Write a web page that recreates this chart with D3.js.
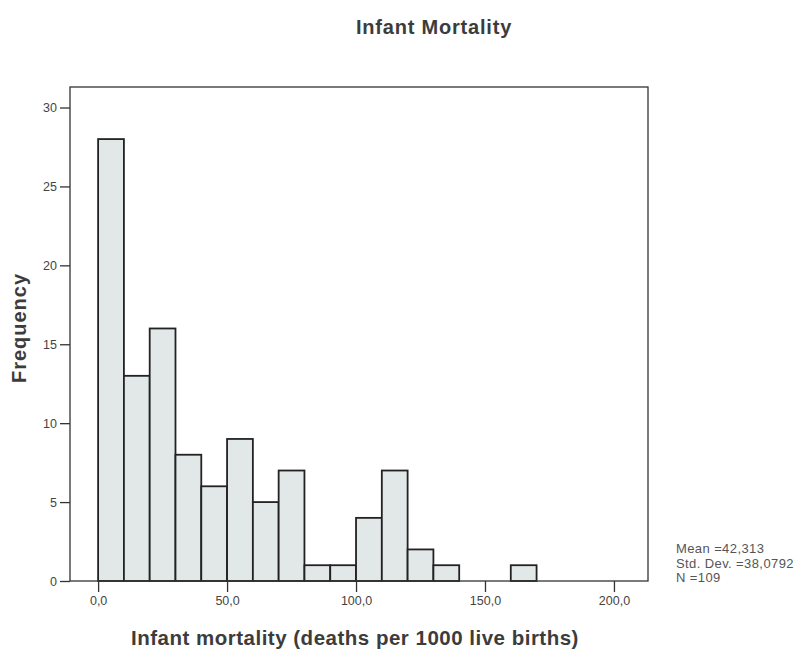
<!DOCTYPE html>
<html><head><meta charset="utf-8">
<script src="https://cdn.jsdelivr.net/npm/d3@7"></script>
<style>body{margin:0;background:#fff}svg{display:block}text{font-family:"Liberation Sans",Arial,sans-serif}</style>
</head><body><svg id="c" width="804" height="651"></svg>
<script>
const binStarts = [0,10,20,30,40,50,60,70,80,90,100,110,120,130,140,150,160];
const frequencies = [28,13,16,8,6,9,5,7,1,1,4,7,2,1,0,0,1];
const xTicks = [0,50,100,150,200];
const yTicks = [0,5,10,15,20,25,30];
const statsLines = ["Mean =42,313","Std. Dev. =38,0792","N =109"];
const binWidth = 10;

const svg = d3.select("#c");
const x = d3.scaleLinear().domain([-10.9, 213.2]).range([70, 648]);
const y = d3.scaleLinear().domain([0, 31.3]).range([581, 87]);

svg.append("text").attr("x",434).attr("y",34).attr("text-anchor","middle")
  .attr("font-size",20).attr("fill","#3c3c3c").attr("font-weight","bold").attr("letter-spacing",0.8).text("Infant Mortality");

// bars
svg.append("g").selectAll("rect").data(binStarts.map((s,i)=>({s,f:frequencies[i]})).filter(d=>d.f>0))
  .join("rect")
  .attr("x",d=>x(d.s)).attr("width",d=>x(d.s+binWidth)-x(d.s))
  .attr("y",d=>y(d.f)).attr("height",d=>y(0)-y(d.f))
  .attr("fill","#e2e8e8").attr("stroke","#222").attr("stroke-width",1.8);

// frame
svg.append("rect").attr("x",x.range()[0]).attr("y",y.range()[1])
  .attr("width",x.range()[1]-x.range()[0]).attr("height",y.range()[0]-y.range()[1])
  .attr("fill","none").attr("stroke","#333").attr("stroke-width",1.3);

// y axis
const yAxis = d3.axisLeft(y).tickValues(yTicks).tickSize(10).tickPadding(3).tickFormat(d3.format("d"));
const gy = svg.append("g").attr("transform",`translate(${x.range()[0]},0)`).call(yAxis);
gy.select(".domain").remove();
gy.selectAll("line").attr("stroke","#333").attr("stroke-width",1.3);
gy.selectAll("text").attr("font-size",12.5).attr("fill","#444").attr("font-family","Liberation Sans, Arial, sans-serif");

// x axis
const xAxis = d3.axisBottom(x).tickValues(xTicks).tickSize(11).tickPadding(4).tickFormat(d=>d.toFixed(1).replace(".",","));
const gx = svg.append("g").attr("transform",`translate(0,${y.range()[0]})`).call(xAxis);
gx.select(".domain").remove();
gx.selectAll("line").attr("stroke","#333").attr("stroke-width",1.3);
gx.selectAll("text").attr("font-size",12.5).attr("fill","#444").attr("font-family","Liberation Sans, Arial, sans-serif");

svg.append("text").attr("x",355).attr("y",645).attr("text-anchor","middle")
  .attr("font-size",20.5).attr("fill","#3c3c3c").attr("font-weight","bold").attr("letter-spacing",0.5)
  .text("Infant mortality (deaths per 1000 live births)");
svg.append("text").attr("transform","translate(26,328) rotate(-90)").attr("text-anchor","middle")
  .attr("font-size",20).attr("font-weight","bold").attr("fill","#3c3c3c").attr("letter-spacing",1).text("Frequency");

svg.append("g").selectAll("text").data(statsLines).join("text")
  .attr("x",676).attr("y",(d,i)=>553+i*14.5).attr("font-size",13).attr("letter-spacing",0.4).attr("fill","#555").text(d=>d);
</script></body></html>
